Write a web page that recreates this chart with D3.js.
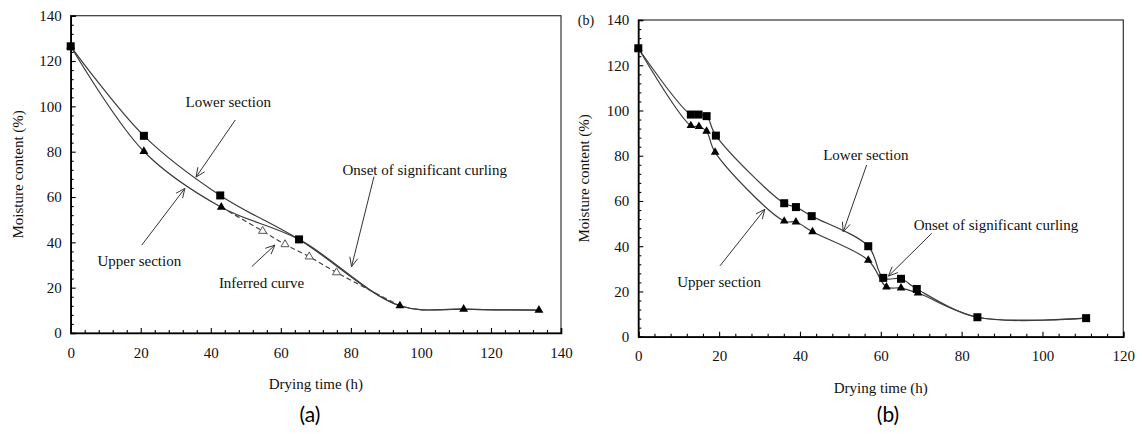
<!DOCTYPE html>
<html>
<head>
<meta charset="utf-8">
<script src="https://cdn.jsdelivr.net/npm/d3@7"></script>
<style>
  html, body { margin: 0; padding: 0; background: #fff; }
  svg { display: block; }
  svg text.serif { font-family: "Liberation Serif", "DejaVu Serif", serif; }
</style>
</head>
<body>
<svg id="chart" width="1142" height="434"></svg>
<script>
// ---------------- DATA ----------------
// Panel (a)
const aTimeLower = [0, 20.9, 42.7, 65.2];
const aMcLower   = [126.5, 87.0, 60.7, 41.3];
const aTimeUpper = [0, 20.9, 43.0];
const aMcUpper   = [126.5, 80.1, 55.5];
const aTimeCommon = [94.0, 112.2, 133.7];
const aMcCommon   = [12.0, 10.5, 10.1];
const aTimeInferred = [54.8, 61.2, 68.1, 75.9];
const aMcInferred   = [45.0, 39.1, 33.7, 26.7];

// Panel (b)
const bTimeLower = [0, 13.0, 14.9, 16.9, 19.2, 36.1, 39.0, 42.9, 56.9, 60.6, 65.0, 68.9, 83.9, 110.8];
const bMcLower   = [127.5, 98.2, 98.2, 97.5, 88.9, 59.0, 57.3, 53.3, 40.0, 26.0, 25.6, 21.1, 8.6, 8.2];
const bTimeUpper = [0, 13.0, 15.0, 16.9, 19.0, 36.1, 39.0, 43.1, 56.9, 61.4, 65.0, 69.2, 83.9, 110.8];
const bMcUpper   = [127.5, 93.3, 92.9, 90.8, 81.5, 51.1, 50.7, 46.4, 33.8, 22.0, 21.5, 19.3, 8.6, 8.2];

// Axis ticks
const aXTicks = [0, 20, 40, 60, 80, 100, 120, 140];
const bXTicks = [0, 20, 40, 60, 80, 100, 120];
const yTicks  = [0, 20, 40, 60, 80, 100, 120, 140];

// Text labels
const yTitle = "Moisture content (%)";
const xTitle = "Drying time (h)";

// Annotations (text position and arrow from -> to, in data units)
const aNotes = [
  { text: "Lower section", tx: 45.0, ty: 101.9, fx: 47.0, fy: 94.0, ex: 35.8, ey: 68.8 },
  { text: "Upper section", tx: 19.6, ty: 31.8, fx: 20.3, fy: 38.8, ex: 32.6, ey: 63.8 },
  { text: "Inferred curve", tx: 54.5, ty: 22.2, fx: 51.7, fy: 29.3, ex: 58.3, ey: 38.8 },
  { text: "Onset of significant curling", tx: 101.1, ty: 71.9, fx: 86.6, fy: 69.0, ex: 80.2, ey: 29.3 }
];
const bNotes = [
  { text: "Lower section", tx: 56.3, ty: 80.3, fx: 56.5, fy: 75.9, ex: 50.7, ey: 46.4 },
  { text: "Upper section", tx: 20.0, ty: 24.3, fx: 20.2, fy: 31.3, ex: 31.3, ey: 56.3 },
  { text: "Onset of significant curling", tx: 88.5, ty: 49.4, fx: 72.6, fy: 45.7, ex: 61.9, ey: 26.8 }
];

// ---------------- DRAW ----------------
const svg = d3.select("#chart");
const curveCol = "#3c3c3c";

function zip(xs, ys) { return xs.map((x, i) => ({ x, y: ys[i] })); }

function panel(opts) {
  const { left, right, top, bottom, xMax, xTicks } = opts;
  const x = d3.scaleLinear().domain([0, xMax]).range([left, right]);
  const y = d3.scaleLinear().domain([0, 140]).range([bottom, top]);
  const g = svg.append("g");

  g.append("rect").attr("x", left).attr("y", top)
    .attr("width", right - left).attr("height", bottom - top)
    .attr("fill", "none").attr("stroke", "#333").attr("stroke-width", 1.2);

  const xMinor = d3.range(0, xMax + 0.001, 4).filter(v => v % 20 !== 0);
  const yMinor = d3.range(0, 140.001, 4).filter(v => v % 20 !== 0);

  const xAxis = g.append("g").attr("transform", `translate(0,${bottom})`)
    .call(d3.axisBottom(x).tickValues(xTicks).tickSize(-5).tickPadding(14).tickFormat(d3.format("d")));
  xAxis.append("g").call(d3.axisBottom(x).tickValues(xMinor).tickSize(-3).tickFormat(""))
    .select(".domain").remove();
  const yAxis = g.append("g").attr("transform", `translate(${left},0)`)
    .call(d3.axisLeft(y).tickValues(yTicks).tickSize(-5).tickPadding(9).tickFormat(d3.format("d")));
  yAxis.append("g").call(d3.axisLeft(y).tickValues(yMinor).tickSize(-3).tickFormat(""))
    .select(".domain").remove();

  [xAxis, yAxis].forEach(ax => {
    ax.attr("font-family", null).attr("font-size", null);
    ax.selectAll("path.domain").attr("stroke", "#000").attr("stroke-width", 1.6);
    ax.selectAll(".tick line").attr("stroke", "#000").attr("stroke-width", 1.1);
    ax.selectAll("text").attr("class", "serif").style("font-size", "15px").attr("fill", "#111");
  });
  xAxis.selectAll(".tick text").attr("dy", "0.71em");

  g.append("text").attr("class", "serif").attr("x", (left + right) / 2).attr("y", bottom + 56)
    .attr("text-anchor", "middle").style("font-size", "15px")
    .attr("fill", "#111").text(xTitle);
  g.append("text").attr("class", "serif")
    .attr("transform", `translate(${opts.yTitleX},${(top + bottom) / 2}) rotate(-90)`)
    .attr("text-anchor", "middle").attr("dominant-baseline", "central")
    .style("font-size", "15px").attr("fill", "#111").text(yTitle);

  return { g, x, y };
}

function drawLine(P, pts, dashed) {
  const line = d3.line().x(d => P.x(d.x)).y(d => P.y(d.y)).curve(d3.curveCatmullRom.alpha(0.5));
  P.g.append("path").attr("d", line(pts)).attr("fill", "none")
    .attr("stroke", dashed ? "#444" : curveCol).attr("stroke-width", 1.2)
    .attr("stroke-dasharray", dashed ? "5,3" : null);
}

function drawSquares(P, pts, s) {
  P.g.selectAll(null).data(pts).enter().append("rect")
    .attr("x", d => P.x(d.x) - s / 2).attr("y", d => P.y(d.y) - s / 2)
    .attr("width", s).attr("height", s).attr("fill", "#000");
}
function drawTriangles(P, pts, s, open) {
  const sym = d3.symbol().type(d3.symbolTriangle).size(s);
  P.g.selectAll(null).data(pts).enter().append("path")
    .attr("d", sym)
    .attr("transform", d => `translate(${P.x(d.x)},${P.y(d.y)})`)
    .attr("fill", open ? "#fff" : "#000")
    .attr("stroke", open ? "#555" : "none").attr("stroke-width", 1);
}

function drawNotes(P, notes) {
  notes.forEach(n => {
    P.g.append("text").attr("class", "serif").attr("x", P.x(n.tx)).attr("y", P.y(n.ty))
      .attr("text-anchor", "middle").attr("dominant-baseline", "central")
      .style("font-size", "15px").attr("fill", "#111").text(n.text);
    const x1 = P.x(n.fx), y1 = P.y(n.fy), x2 = P.x(n.ex), y2 = P.y(n.ey);
    P.g.append("line").attr("x1", x1).attr("y1", y1).attr("x2", x2).attr("y2", y2)
      .attr("stroke", "#333").attr("stroke-width", 1);
    const ang = Math.atan2(y2 - y1, x2 - x1);
    const L = 10, spread = 0.42;
    const hp = [
      [x2 - L * Math.cos(ang - spread), y2 - L * Math.sin(ang - spread)],
      [x2, y2],
      [x2 - L * Math.cos(ang + spread), y2 - L * Math.sin(ang + spread)]
    ];
    P.g.append("path").attr("d", d3.line()(hp)).attr("fill", "none")
      .attr("stroke", "#333").attr("stroke-width", 1);
  });
}

// ----- Panel (a) -----
const A = panel({ left: 70.7, right: 561, top: 15.7, bottom: 333, xMax: 140, xTicks: aXTicks, yTitleX: 18 });
const aLower = zip(aTimeLower, aMcLower);
const aUpper = zip(aTimeUpper, aMcUpper);
const aCommon = zip(aTimeCommon, aMcCommon);
const aInferred = zip(aTimeInferred, aMcInferred);
drawLine(A, aLower.concat(aCommon), false);
drawLine(A, aUpper.concat([aLower[aLower.length - 1]], aCommon), false);
drawLine(A, [aUpper[aUpper.length - 1]].concat(aInferred, [aCommon[0]]), true);
drawTriangles(A, aInferred, 28, true);
drawTriangles(A, aUpper.concat(aCommon), 34, false);
drawSquares(A, aLower, 8);
drawNotes(A, aNotes);

// ----- Panel (b) -----
const B = panel({ left: 638.3, right: 1123.3, top: 20, bottom: 336.7, xMax: 120, xTicks: bXTicks, yTitleX: 584 });
const bLower = zip(bTimeLower, bMcLower);
const bUpper = zip(bTimeUpper, bMcUpper);
drawLine(B, bLower, false);
drawLine(B, bUpper, false);
// triangles hidden behind shared squares at the end are not redrawn on top
drawTriangles(B, bUpper.slice(0, bUpper.length - 2), 32, false);
drawSquares(B, bLower, 8);
drawNotes(B, bNotes);
svg.append("text").attr("class", "serif").attr("x", 586).attr("y", 20).attr("text-anchor", "middle")
  .attr("dominant-baseline", "central").style("font-size", "14px")
  .attr("fill", "#111").text("(b)");

// Sub-figure captions
svg.append("text").attr("x", 310).attr("y", 413).attr("text-anchor", "middle")
  .attr("dominant-baseline", "central").style("font-family", "Lato, 'Open Sans', sans-serif")
  .style("font-size", "21px").attr("fill", "#000").text("(a)");
svg.append("text").attr("x", 888).attr("y", 413).attr("text-anchor", "middle")
  .attr("dominant-baseline", "central").style("font-family", "Lato, 'Open Sans', sans-serif")
  .style("font-size", "21px").attr("fill", "#000").text("(b)");
</script>
</body>
</html>
